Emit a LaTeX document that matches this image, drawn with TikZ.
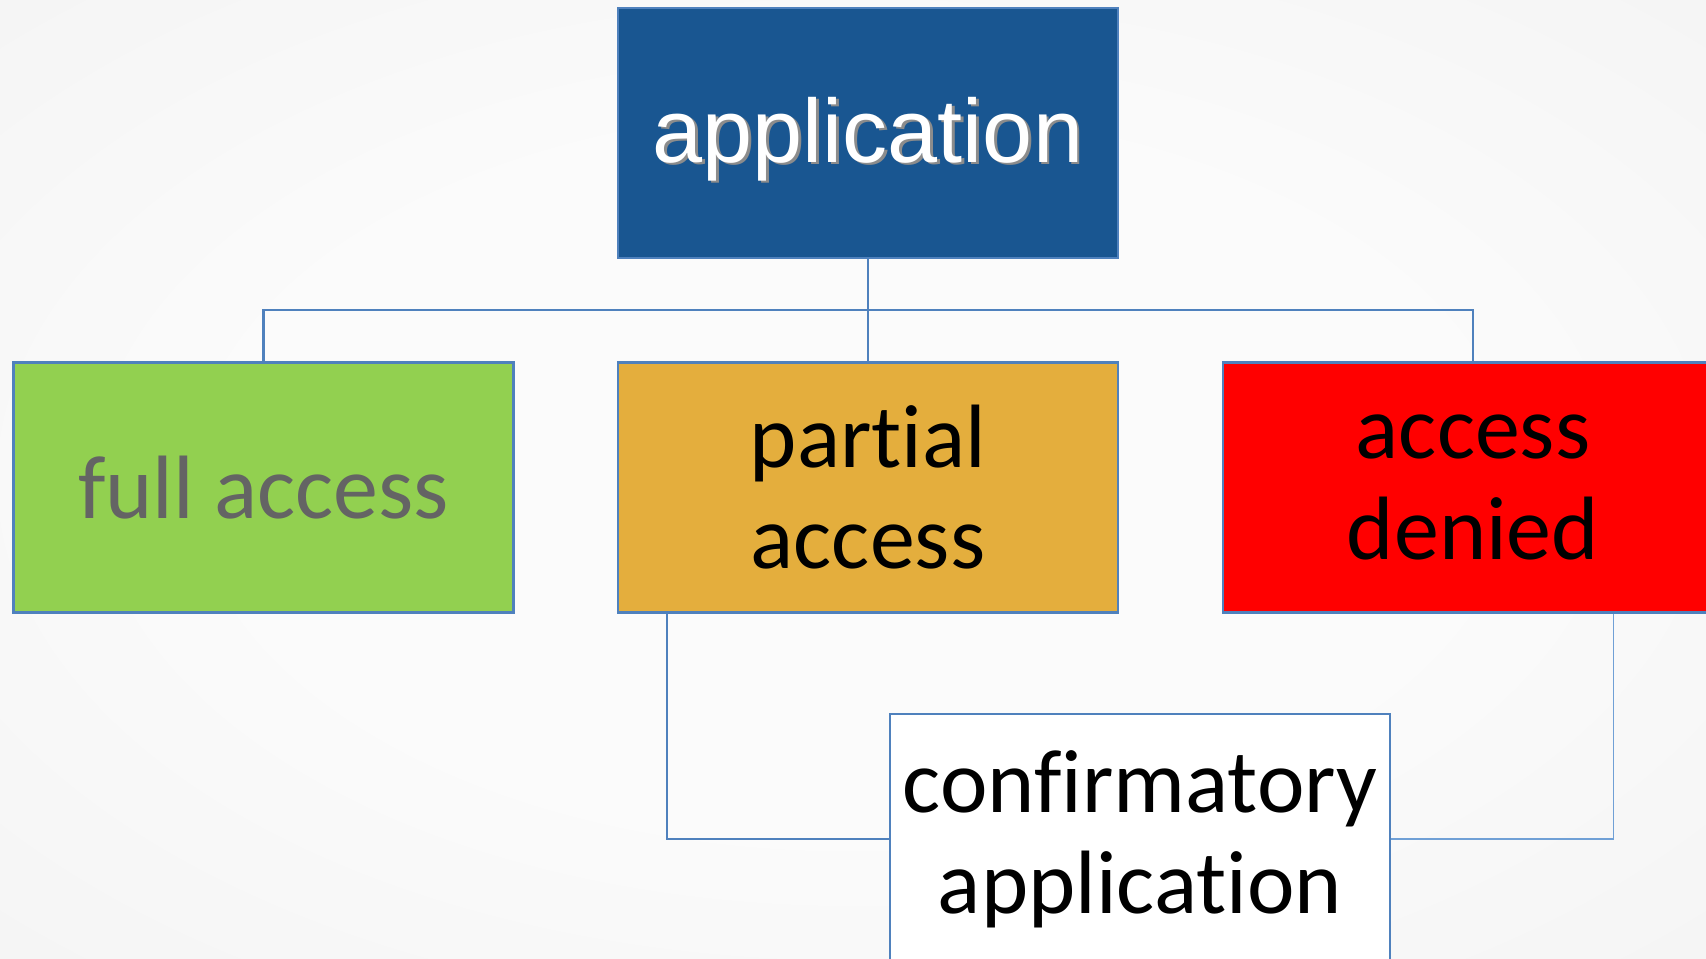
\documentclass[tikz,border=0pt]{standalone}
\usepackage{fontspec}
\setmainfont{Carlito}[Ligatures={NoCommon,NoContextual},RawFeature={-liga;-clig;-dlig}]
\newfontfamily\arialf{Liberation Sans}
\definecolor{bgedge}{RGB}{232,232,232}
\definecolor{bgmid}{RGB}{251,251,251}
\definecolor{appblue}{RGB}{25,86,145}
\definecolor{edgeblue}{RGB}{79,129,189}
\definecolor{thinblue}{RGB}{112,160,214}
\definecolor{fgreen}{RGB}{146,208,80}
\definecolor{porange}{RGB}{228,174,61}
\definecolor{dred}{RGB}{255,0,0}
\definecolor{txtgray}{RGB}{100,100,100}
\pgfdeclareradialshading{bgrad}{\pgfpoint{0bp}{0bp}}{color(0bp)=(bgmid); color(18bp)=(bgmid); color(72bp)=(bgedge)}
\newcommand\shtext[1]{\leavevmode\rlap{\kern1.2pt\raisebox{-1.2pt}{\textcolor{black!45}{#1}}}#1}
\begin{document}
\begin{tikzpicture}[x=0.5pt,y=-0.5pt,
  boxstyle/.style={draw=edgeblue,line width=1.3pt,rectangle,minimum width=250pt,minimum height=125pt,inner sep=0pt,align=center,font=\fontsize{45}{50.5}\selectfont},
  conn/.style={draw=edgeblue,line width=1.2pt},
  thinconn/.style={draw=thinblue,line width=0.6pt}]
\useasboundingbox (0,0) rectangle (1706,958);
\clip (0,0) rectangle (1706,958);
\shade[shading=bgrad] (0,0) rectangle (1706,958);
% nodes
\node[boxstyle,fill=appblue,text=white,text height=38pt,text depth=8.5pt,font=\arialf\fontsize{45}{50.5}\selectfont] (app) at (868,133) {\shtext{application}};
\node[boxstyle,fill=fgreen,text=txtgray] (full) at (263.5,487.5) {full access};
\node[boxstyle,fill=porange,text=black] (part) at (868,487.5) {partial\\access};
\node[boxstyle,fill=dred,text=black] (den) at (1473,487.5) {access\\denied};
% connectors
\coordinate (bus) at (868,310);
\draw[conn] (app.south) -- (bus);
\draw[conn] (bus) -| (full.north);
\draw[conn] (bus) -| (den.north);
\draw[conn] (bus) -- (part.north);
\draw[conn] ([xshift=25pt]part.south west) |- (1140,839) coordinate (pc);
\draw[thinconn] ([xshift=196pt]den.south west) |- (1140,839) coordinate (dc);
\node[boxstyle,fill=white,text=black] (conf) at (1140,839) {confirmatory\\application};
\end{tikzpicture}
\end{document}
